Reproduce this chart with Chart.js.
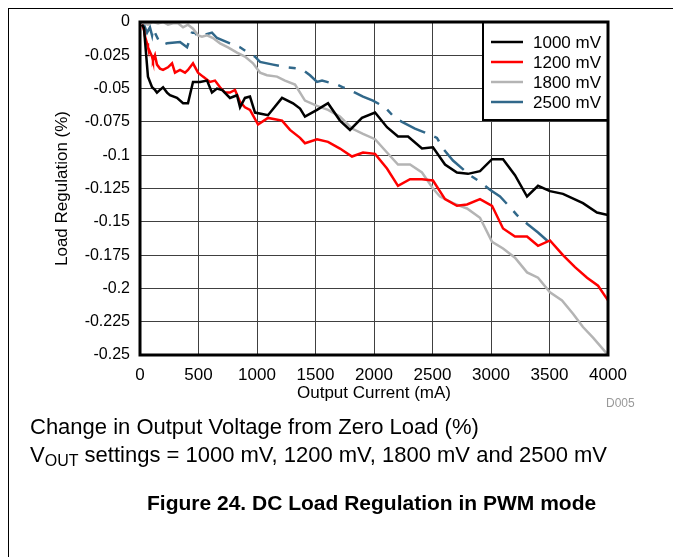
<!DOCTYPE html>
<html>
<head>
<meta charset="utf-8">
<script src="https://cdn.jsdelivr.net/npm/chart.js@4.4.0/dist/chart.umd.min.js"></script>
<style>
  html, body { margin: 0; padding: 0; background: #fff; }
  body { width: 673px; height: 557px; position: relative; overflow: hidden; font-family: "Liberation Sans", Arial, sans-serif; }
  #wrap { position: absolute; left: 0; top: 0; width: 673px; height: 557px; }
  .frame-top { position: absolute; left: 8px; top: 8px; width: 665px; height: 1px; background: #000; }
  .frame-left { position: absolute; left: 8px; top: 8px; width: 1px; height: 549px; background: #000; }
  .note { position: absolute; left: 30px; font-size: 22px; line-height: 26px; color: #000; white-space: nowrap; }
  .note sub { font-size: 16px; vertical-align: -4px; line-height: 0; }
  .fig { position: absolute; left: 147px; top: 490px; font-size: 21px; line-height: 26px; font-weight: bold; white-space: nowrap; }
  .code { position: absolute; left: 606px; top: 396px; font-size: 12px; color: #999; }
</style>
</head>
<body>
<div class="frame-top"></div>
<div class="frame-left"></div>
<div id="wrap"><canvas id="loadReg" width="673" height="557"></canvas></div>
<div class="code">D005</div>
<div class="note" style="top:414px">Change in Output Voltage from Zero Load (%)</div>
<div class="note" style="top:442px">V<sub>OUT</sub> settings = 1000 mV, 1200 mV, 1800 mV and 2500 mV</div>
<div class="fig">Figure 24. DC Load Regulation in PWM mode</div>
<script>
/* axis ticks */
const xTicks = [0, 500, 1000, 1500, 2000, 2500, 3000, 3500, 4000];
const xTickLabels = ['0', '500', '1000', '1500', '2000', '2500', '3000', '3500', '4000'];
const yTicks = [-0.25, -0.225, -0.2, -0.175, -0.15, -0.125, -0.1, -0.075, -0.05, -0.025, 0];
const yTickLabels = ['-0.25', '-0.225', '-0.2', '-0.175', '-0.15', '-0.125', '-0.1', '-0.075', '-0.05', '-0.025', '0'];

/* series: [output current mA, load regulation %] */
const seriesNames = ['1000 mV', '1200 mV', '1800 mV', '2500 mV'];

const vout1000 = [
    [17, -0.002], [34, -0.0045], [51, -0.023], [68, -0.041], [103, -0.049], [128, -0.051],
    [145, -0.053], [171, -0.051], [197, -0.049], [231, -0.053], [256, -0.055], [316, -0.057],
    [368, -0.061], [410, -0.061], [453, -0.045], [513, -0.045], [573, -0.044], [615, -0.053],
    [658, -0.050], [701, -0.051], [769, -0.057], [829, -0.055], [855, -0.064], [897, -0.057],
    [940, -0.056], [983, -0.068], [1094, -0.070], [1214, -0.057], [1308, -0.061], [1368, -0.065],
    [1410, -0.071], [1513, -0.066], [1607, -0.061], [1709, -0.074], [1795, -0.081], [1897, -0.072],
    [2009, -0.068], [2111, -0.079], [2205, -0.086], [2291, -0.086], [2410, -0.095], [2504, -0.094],
    [2607, -0.107], [2709, -0.113], [2803, -0.114], [2906, -0.112], [3009, -0.103], [3103, -0.103],
    [3205, -0.115], [3308, -0.131], [3402, -0.123], [3504, -0.127], [3615, -0.129], [3786, -0.136],
    [3906, -0.143], [4000, -0.145]
];

const vout1200 = [
    [17, -0.002], [34, -0.006], [43, -0.011], [60, -0.016], [68, -0.019], [103, -0.026],
    [111, -0.029], [128, -0.025], [145, -0.032], [171, -0.035], [197, -0.036], [239, -0.034],
    [274, -0.031], [299, -0.038], [342, -0.036], [385, -0.038], [410, -0.036], [453, -0.031],
    [496, -0.038], [538, -0.041], [598, -0.045], [641, -0.044], [684, -0.049], [726, -0.053],
    [769, -0.053], [812, -0.051], [855, -0.060], [897, -0.064], [940, -0.066], [1009, -0.077],
    [1094, -0.072], [1214, -0.074], [1282, -0.081], [1368, -0.087], [1410, -0.091], [1513, -0.088],
    [1607, -0.090], [1709, -0.095], [1812, -0.101], [1906, -0.098], [2009, -0.099], [2111, -0.110],
    [2205, -0.123], [2308, -0.118], [2410, -0.118], [2504, -0.119], [2607, -0.133], [2709, -0.138],
    [2795, -0.137], [2906, -0.133], [3009, -0.138], [3103, -0.155], [3205, -0.161], [3308, -0.161],
    [3402, -0.168], [3504, -0.164], [3615, -0.175], [3718, -0.184], [3821, -0.192], [3915, -0.198],
    [4000, -0.209]
];

const vout1800 = [
    [17, -0.001], [34, -0.001], [68, -0.002], [111, 0], [154, -0.001], [197, 0],
    [239, -0.002], [282, -0.001], [325, -0.001], [368, -0.004], [410, -0.002], [453, -0.005],
    [496, -0.010], [530, -0.011], [573, -0.010], [624, -0.012], [684, -0.016], [752, -0.019],
    [829, -0.023], [897, -0.026], [966, -0.031], [1026, -0.038], [1085, -0.040], [1171, -0.041],
    [1239, -0.044], [1325, -0.047], [1410, -0.059], [1513, -0.063], [1607, -0.066], [1709, -0.071],
    [1812, -0.080], [1906, -0.084], [2009, -0.088], [2111, -0.098], [2205, -0.107], [2308, -0.107],
    [2410, -0.113], [2504, -0.125], [2564, -0.131], [2675, -0.136], [2795, -0.140], [2906, -0.147],
    [3009, -0.165], [3103, -0.170], [3205, -0.177], [3308, -0.188], [3402, -0.192], [3504, -0.203],
    [3607, -0.209], [3701, -0.219], [3786, -0.229], [3872, -0.237], [4000, -0.250]
];

const vout2500 = [
    [17, 0], [34, -0.002], [60, -0.008], [85, -0.004], [103, -0.010], [111, -0.005],
    [171, -0.016], [197, -0.017], [231, -0.016], [342, -0.015], [402, -0.019], [444, -0.008],
    [470, -0.008], [496, -0.011], [615, -0.008], [658, -0.012], [769, -0.016], [855, -0.019],
    [923, -0.023], [983, -0.026], [1026, -0.030], [1137, -0.032], [1256, -0.034], [1350, -0.035],
    [1393, -0.036], [1453, -0.040], [1513, -0.045], [1556, -0.044], [1684, -0.047], [1735, -0.049],
    [1838, -0.053], [1906, -0.056], [1991, -0.059], [2094, -0.064], [2179, -0.072], [2239, -0.075],
    [2350, -0.080], [2436, -0.083], [2538, -0.087], [2590, -0.095], [2675, -0.104], [2820, -0.115],
    [2906, -0.120], [2991, -0.126], [3077, -0.131], [3162, -0.139], [3222, -0.145], [3316, -0.152],
    [3402, -0.158], [3504, -0.166]
];

const lineColors = ['#000000', '#ff0000', '#b4b4b4', '#31688a'];

const toPoints = arr => arr.map(p => ({ x: p[0], y: p[1] }));
const findLabel = (ticks, labels, v) => labels[ticks.findIndex(t => Math.abs(t - v) < 1e-9)];

/* framed plot area + boxed legend in the top right corner */
const plotFrame = {
    id: 'plotFrame',
    afterDraw(chart) {
        const { ctx, chartArea } = chart;
        const w = 125, h = 98;
        const lx = chartArea.right - w, ly = chartArea.top;
        ctx.save();
        ctx.fillStyle = '#fff';
        ctx.fillRect(lx, ly, w, h);
        ctx.strokeStyle = '#000';
        ctx.lineWidth = 2;
        ctx.strokeRect(lx, ly, w, h);
        ctx.font = '17px "Liberation Sans", Arial, sans-serif';
        ctx.textBaseline = 'middle';
        chart.data.datasets.forEach((ds, i) => {
            const y = ly + 20 + i * 20;
            ctx.beginPath();
            ctx.strokeStyle = ds.borderColor;
            ctx.lineWidth = 2.5;
            ctx.moveTo(lx + 8, y);
            ctx.lineTo(lx + 40, y);
            ctx.stroke();
            ctx.fillStyle = '#000';
            ctx.fillText(ds.label, lx + 50, y + 1);
        });
        ctx.strokeStyle = '#000';
        ctx.lineWidth = 3;
        ctx.strokeRect(chartArea.left, chartArea.top, chartArea.width, chartArea.height);
        ctx.restore();
    }
};

const datasets = [vout1000, vout1200, vout1800, vout2500].map((arr, i) => ({
    label: seriesNames[i],
    data: toPoints(arr),
    borderColor: lineColors[i],
    borderWidth: 2.5,
    borderDash: i === 3 ? [28, 10, 7, 10] : [],
    pointRadius: 0,
    tension: 0,
    fill: false
}));

const loadReg = new Chart(document.getElementById('loadReg'), {
    type: 'line',
    data: { datasets: datasets },
    options: {
        responsive: false,
        animation: false,
        layout: { padding: { left: 0, top: 22, right: 65, bottom: 150 } },
        plugins: {
            legend: { display: false },
            tooltip: { enabled: false }
        },
        scales: {
            x: {
                type: 'linear',
                min: 0,
                max: 4000,
                afterBuildTicks: scale => { scale.ticks = xTicks.map(v => ({ value: v })); },
                afterFit: scale => { scale.height = 52; },
                ticks: {
                    autoSkip: false,
                    maxRotation: 0,
                    padding: 10,
                    color: '#000',
                    font: { family: '"Liberation Sans", Arial', size: 17 },
                    callback: v => findLabel(xTicks, xTickLabels, v)
                },
                grid: { color: '#404040', lineWidth: 1, drawTicks: false },
                border: { display: false },
                title: {
                    display: true,
                    text: 'Output Current (mA)',
                    color: '#000',
                    font: { family: '"Liberation Sans", Arial', size: 17 },
                    padding: { top: 0, bottom: 3 }
                }
            },
            y: {
                min: -0.25,
                max: 0,
                afterBuildTicks: scale => { scale.ticks = yTicks.map(v => ({ value: v })); },
                afterFit: scale => { scale.width = 140; },
                ticks: {
                    autoSkip: false,
                    padding: 10,
                    color: '#000',
                    font: { family: '"Liberation Sans", Arial', size: 16 },
                    callback: v => findLabel(yTicks, yTickLabels, v)
                },
                grid: { color: '#404040', lineWidth: 1, drawTicks: false },
                border: { display: false },
                title: {
                    display: true,
                    text: 'Load Regulation (%)',
                    color: '#000',
                    font: { family: '"Liberation Sans", Arial', size: 17 },
                    padding: { top: 52, bottom: 0 }
                }
            }
        }
    },
    plugins: [plotFrame]
});
</script>
</body>
</html>
